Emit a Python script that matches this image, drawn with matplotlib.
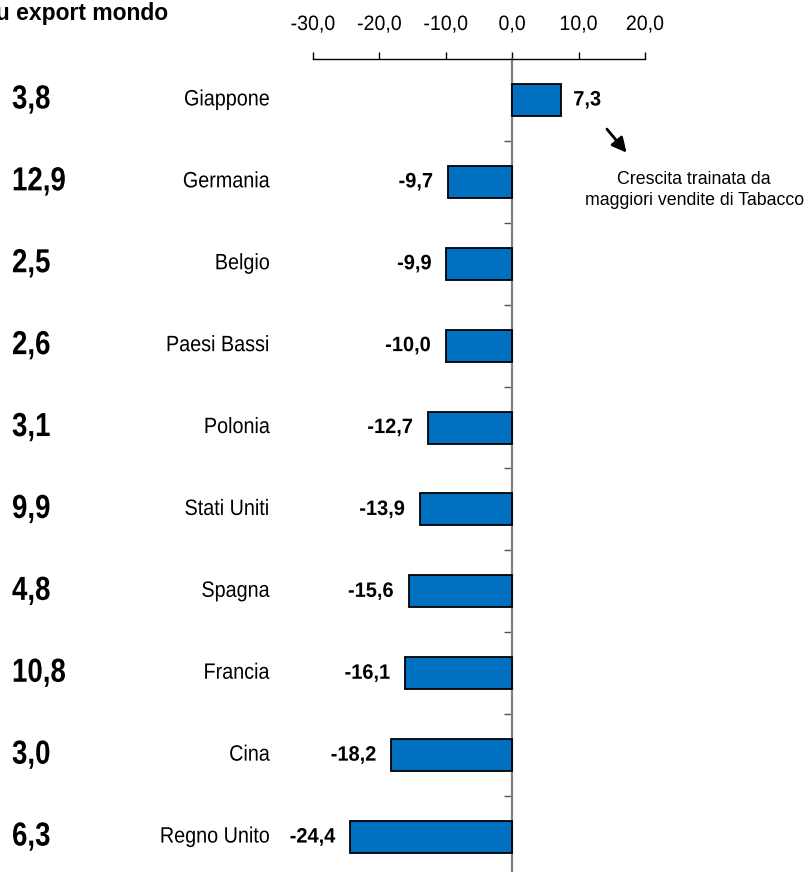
import matplotlib
matplotlib.use("Agg")
import matplotlib.pyplot as plt
from matplotlib.patheffects import AbstractPathEffect
from matplotlib.transforms import Affine2D, blended_transform_factory

paesi = ["Giappone", "Germania", "Belgio", "Paesi Bassi", "Polonia",
         "Stati Uniti", "Spagna", "Francia", "Cina", "Regno Unito"]
crescita = [7.3, -9.7, -9.9, -10.0, -12.7, -13.9, -15.6, -16.1, -18.2, -24.4]
quota_export = [3.8, 12.9, 2.5, 2.6, 3.1, 9.9, 4.8, 10.8, 3.0, 6.3]
x_ticks = [-30, -20, -10, 0, 10, 20]

plt.rcParams["font.family"] = ["Liberation Sans", "DejaVu Sans"]


class Narrow(AbstractPathEffect):
    # stringe il testo in orizzontale (simula un font "narrow")
    def __init__(self, anchor="left", sx=0.82):
        super().__init__()
        self.anchor = anchor
        self.sx = sx

    def draw_path(self, renderer, gc, tpath, affine, rgbFace=None):
        xmax = tpath.vertices[:, 0].max() if len(tpath.vertices) else 0
        x0 = {"left": 0, "right": xmax, "center": xmax / 2}[self.anchor]
        t = Affine2D().translate(-x0, 0).scale(self.sx, 1).translate(x0, 0) + affine
        renderer.draw_path(gc, tpath, t, rgbFace)


def virgola(v):
    return f"{v:.1f}".replace(".", ",")


W, H = 806, 872
fig = plt.figure(figsize=(W / 100, H / 100), dpi=100)
ax = fig.add_axes([313 / W, -6 / H, 332 / W, 819 / H])

ypos = list(range(len(paesi)))
ax.barh(ypos, crescita, height=0.39, color="#0070C0", edgecolor="black",
        linewidth=1.3, zorder=3)

ax.set_xlim(-30, 20)
ax.set_ylim(len(paesi) - 0.5, -0.5)

# asse x in alto
ax.xaxis.tick_top()
ax.set_xticks(x_ticks)
ax.set_xticklabels([virgola(t) for t in x_ticks], fontsize=15)
ax.tick_params(axis="x", direction="out", length=5, width=1, pad=13)
for s in ["bottom", "right"]:
    ax.spines[s].set_visible(False)
ax.spines["top"].set_linewidth(1)

# asse verticale sullo zero
ax.spines["left"].set_position(("data", 0))
ax.spines["left"].set_color("#808080")
ax.spines["left"].set_linewidth(1.6)
ax.set_yticks([i + 0.5 for i in ypos])
ax.set_yticklabels([])
ax.tick_params(axis="y", direction="out", length=6, width=1, color="#555555")

tr = blended_transform_factory(fig.transFigure, ax.transData)
for i, (p, v, q) in enumerate(zip(paesi, crescita, quota_export)):
    ax.text(270 / W, i, p, transform=tr, ha="right", va="center", fontsize=16,
            path_effects=[Narrow("right", 0.89)])
    ax.text(12 / W, i, virgola(q), transform=tr, ha="left", va="center",
            fontsize=24, fontweight="bold", path_effects=[Narrow("left", 0.83)])
    if v >= 0:
        ax.text(v + 1.9, i, virgola(v), ha="left", va="center",
                fontsize=15, fontweight="bold",
                path_effects=[Narrow("left", 0.96)])
    else:
        ax.text(v - 2.2, i, virgola(v), ha="right", va="center",
                fontsize=15, fontweight="bold",
                path_effects=[Narrow("right", 0.96)])

fig.text(168 / W, 1 - 20 / H, "Quota % su export mondo", ha="right",
         va="baseline", fontsize=16.5, fontweight="bold")

ax.annotate("", xy=(17.5, 0.67), xytext=(14.0, 0.33),
            arrowprops=dict(arrowstyle="-|>", color="black", lw=2,
                            mutation_scale=22))
ax.text(27.4, 1.1, "Crescita trainata da\nmaggiori vendite di Tabacco",
        ha="center", va="center", fontsize=12.8, linespacing=1.3)

for lbl in ax.get_xticklabels():
    lbl.set_path_effects([Narrow("center", 0.94)])

fig.savefig("out.png", dpi=100)
